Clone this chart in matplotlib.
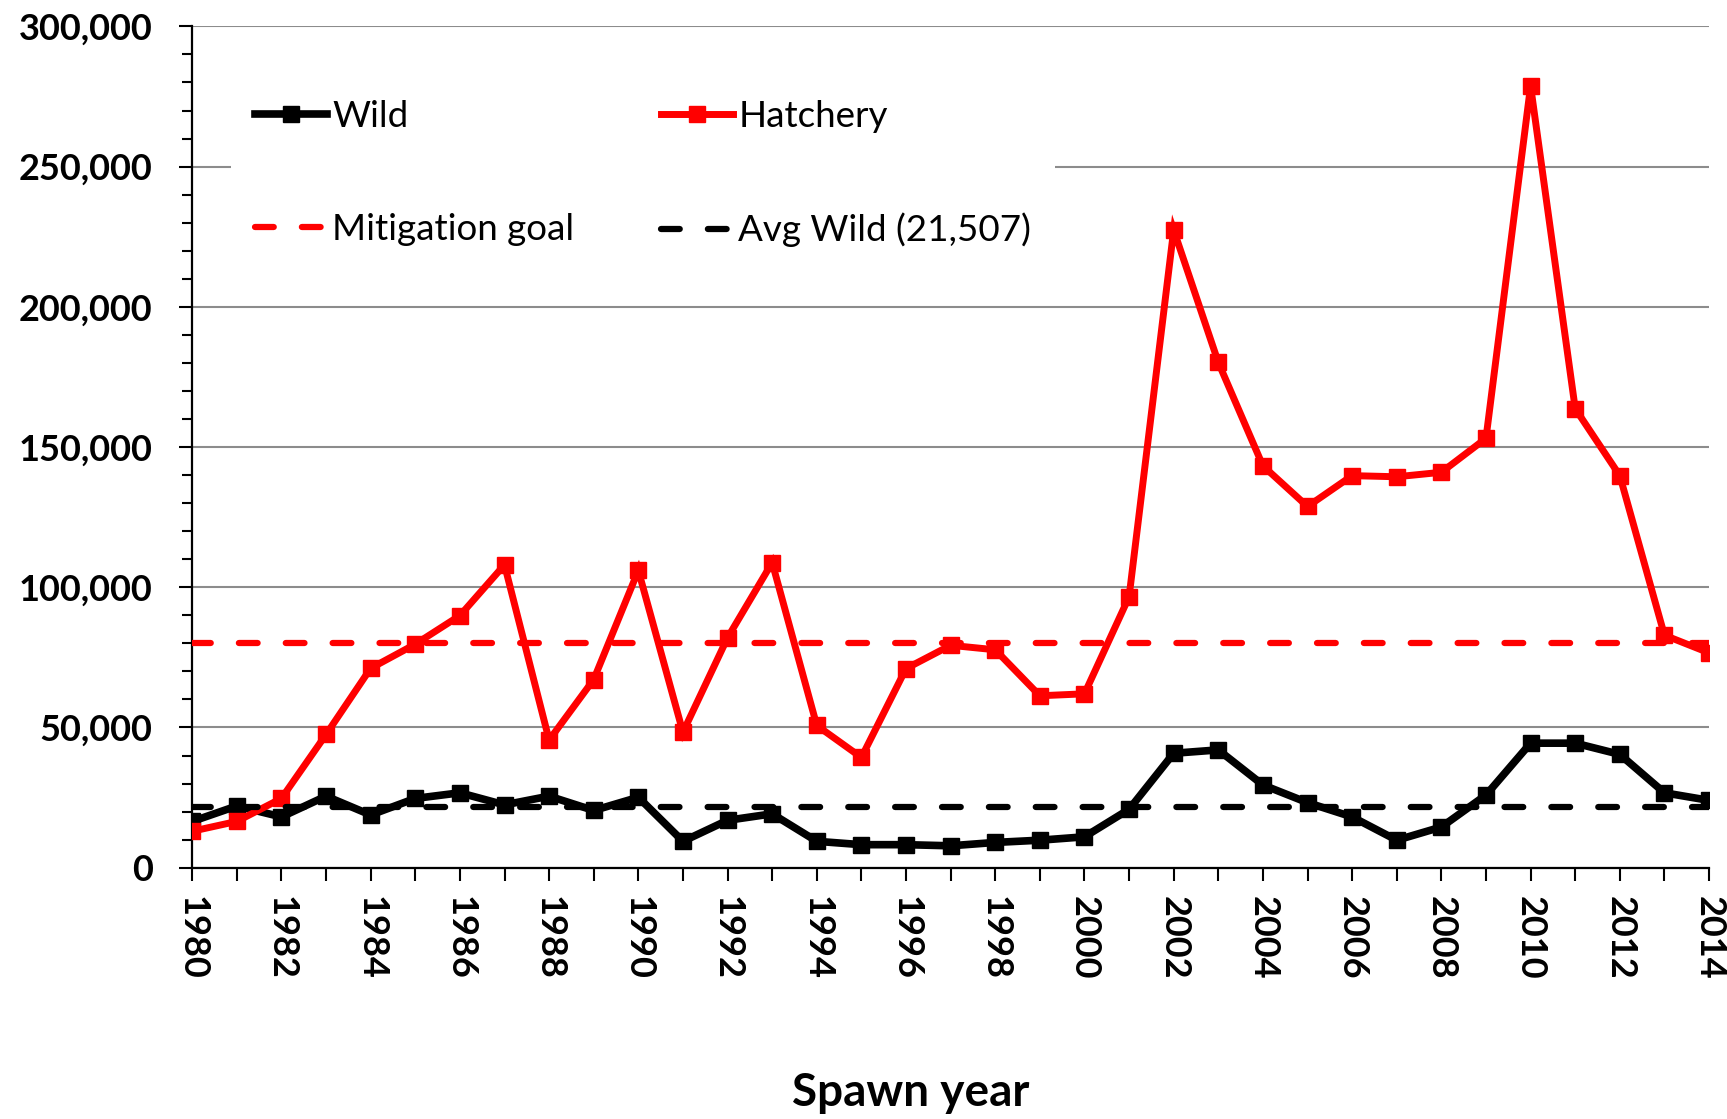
import matplotlib
matplotlib.use("Agg")
import matplotlib.pyplot as plt
from matplotlib.ticker import FuncFormatter, MultipleLocator

years = list(range(1980, 2015))
wild = [16500, 22000, 18100, 25500, 18800, 24700, 26700, 22400, 25500, 20400,
        25100, 9400, 16900, 19200, 9400, 8200, 8200, 7800, 9000, 9800,
        11000, 20800, 40800, 42000, 29500, 23200, 18100, 9800, 14500, 25900,
        44400, 44400, 40400, 26700, 24000]
hatchery = [13000, 16500, 24700, 47500, 71100, 79700, 89900, 108000, 45500, 67100,
            106000, 48300, 82000, 108800, 50700, 39300, 71000, 79300, 77700, 61300,
            62000, 96600, 227400, 180200, 143300, 128800, 139800, 139400, 141000, 153100,
            278800, 163700, 139800, 82900, 76600]
mitigation_goal = 80000
avg_wild = 21507

plt.rcParams["font.family"] = ["Lato", "DejaVu Sans"]

fig = plt.figure(figsize=(17.27, 11.19), dpi=100)
ax = fig.add_axes([0.1113, 0.2246, 0.9896 - 0.1113, 0.9764 - 0.2246])

ax.plot(years, wild, color="black", lw=5.5, marker="s", ms=11,
        solid_joinstyle="miter", label="Wild", zorder=3)
ax.plot(years, hatchery, color="#ff0000", lw=5, marker="s", ms=11,
        solid_joinstyle="miter", label="Hatchery", zorder=3)
ax.plot([years[0], years[-1]], [mitigation_goal] * 2, color="#ff0000", lw=4.5,
        dashes=(3, 4.5), dash_capstyle="round", label="Mitigation goal", zorder=4)
ax.plot([years[0], years[-1]], [avg_wild] * 2, color="black", lw=4.5,
        dashes=(3, 4.5), dash_capstyle="round", label="Avg Wild (21,507)", zorder=4)

ax.set_xlim(1980, 2014)
ax.set_ylim(0, 300000)
ax.yaxis.set_major_locator(MultipleLocator(50000))
ax.yaxis.set_minor_locator(MultipleLocator(10000))
ax.xaxis.set_major_locator(MultipleLocator(2))
ax.xaxis.set_minor_locator(MultipleLocator(1))
ax.yaxis.set_major_formatter(FuncFormatter(lambda v, p: f"{int(v):,}"))

ax.grid(axis="y", which="major", color="#8c8c8c", lw=1.5, zorder=0)
ax.set_axisbelow(True)
for s in ["top", "right"]:
    ax.spines[s].set_visible(False)
for s in ["left", "bottom"]:
    ax.spines[s].set_linewidth(1.6)

ax.tick_params(axis="y", which="major", direction="out", length=9.5, width=1.5,
               pad=19, labelsize=26)
ax.tick_params(axis="y", which="minor", direction="out", length=7, width=1.5)
ax.tick_params(axis="x", which="both", direction="out", length=9.5, width=1.5,
               pad=11, labelsize=26)
for lab in ax.get_yticklabels():
    lab.set_fontweight("bold")
for lab in ax.get_xticklabels():
    lab.set_fontweight("bold")
    lab.set_rotation(-90)

h, l = ax.get_legend_handles_labels()
order = [0, 2, 1, 3]
leg = fig.legend([h[i] for i in order], [l[i] for i in order], ncol=2,
                 loc="upper left", bbox_to_anchor=(231 / 1727, 1 - 76 / 1119),
                 fontsize=26.5, frameon=True, fancybox=False, framealpha=1,
                 facecolor="white", edgecolor="none", borderpad=0.65,
                 handlelength=1.95, handletextpad=0.15, labelspacing=2.17,
                 columnspacing=2.35, borderaxespad=0)
leg.set_zorder(5)

fig.text(911 / 1727, 1 - 1106 / 1119, "Spawn year", ha="center", va="baseline",
         fontsize=33, fontweight="bold")

fig.savefig("out.png", dpi=100)
